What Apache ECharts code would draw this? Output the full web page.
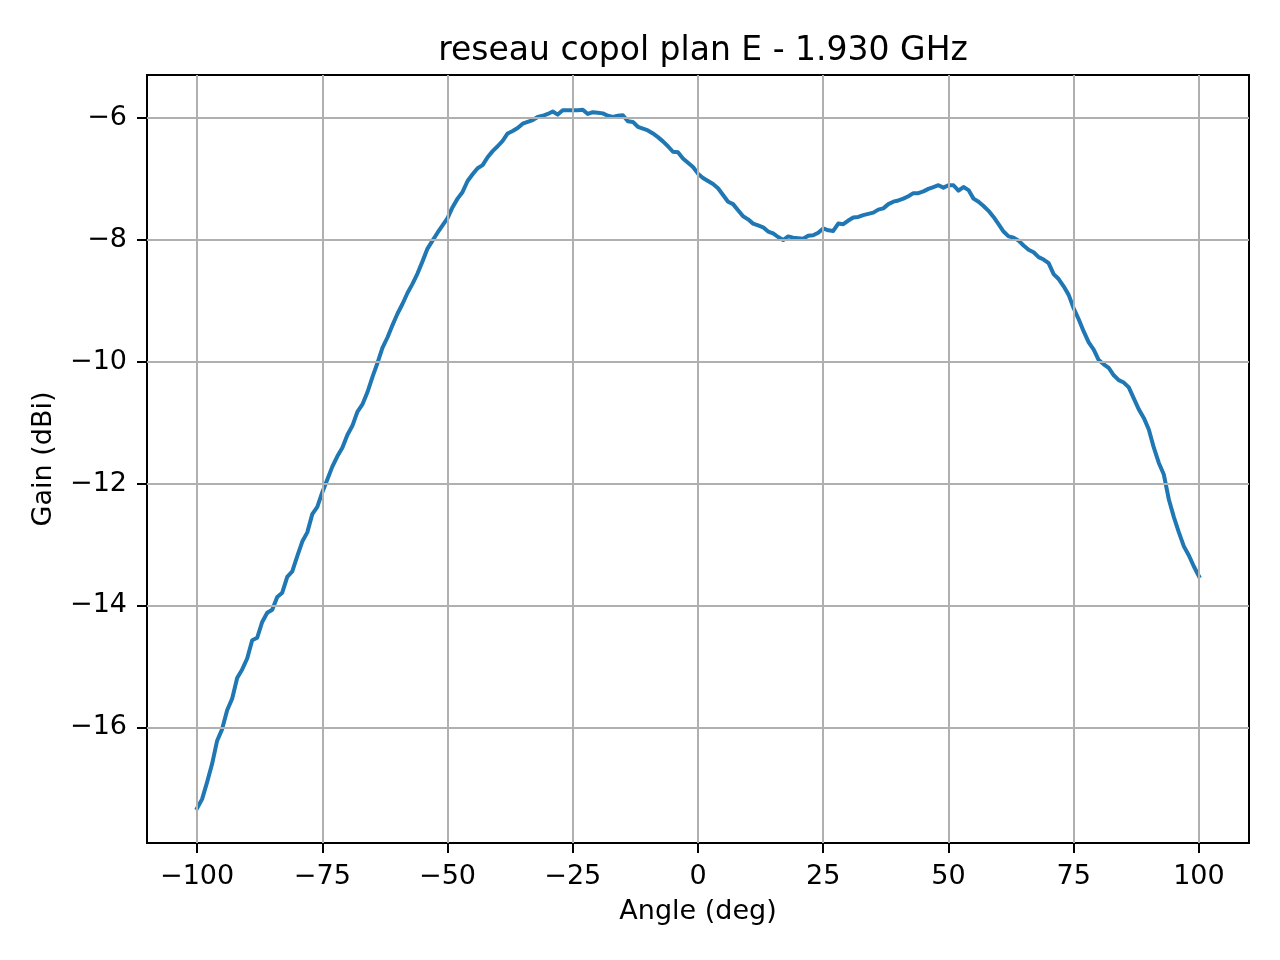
<!DOCTYPE html>
<html>
<head>
<meta charset="utf-8">
<script src="https://cdn.jsdelivr.net/npm/echarts@6/dist/echarts.min.js"></script>
<style>html,body{margin:0;padding:0;background:#fff;}#chart{width:1280px;height:960px;}</style>
</head>
<body>
<div id="chart"></div>
<script>
const titleText = 'reseau copol plan E - 1.930 GHz';
const xName = 'Angle (deg)';
const yName = 'Gain (dBi)';
const xTicks = [-100, -75, -50, -25, 0, 25, 50, 75, 100];
const yTicks = [-16, -14, -12, -10, -8, -6];
const xRange = [-110, 110];
const yRange = [-17.9, -5.29];
const angles = [
 -100,-99,-98,-97,-96,-95,-94,-93,-92,-91,
 -90,-89,-88,-87,-86,-85,-84,-83,-82,-81,
 -80,-79,-78,-77,-76,-75,-74,-73,-72,-71,
 -70,-69,-68,-67,-66,-65,-64,-63,-62,-61,
 -60,-59,-58,-57,-56,-55,-54,-53,-52,-51,
 -50,-49,-48,-47,-46,-45,-44,-43,-42,-41,
 -40,-39,-38,-37,-36,-35,-34,-33,-32,-31,
 -30,-29,-28,-27,-26,-25,-24,-23,-22,-21,
 -20,-19,-18,-17,-16,-15,-14,-13,-12,-11,
 -10,-9,-8,-7,-6,-5,-4,-3,-2,-1,
 0,1,2,3,4,5,6,7,8,9,
 10,11,12,13,14,15,16,17,18,19,
 20,21,22,23,24,25,26,27,28,29,
 30,31,32,33,34,35,36,37,38,39,
 40,41,42,43,44,45,46,47,48,49,
 50,51,52,53,54,55,56,57,58,59,
 60,61,62,63,64,65,66,67,68,69,
 70,71,72,73,74,75,76,77,78,79,
 80,81,82,83,84,85,86,87,88,89,
 90,91,92,93,94,95,96,97,98,99,
 100
];
const gains = [
 -17.33,-17.18,-16.90,-16.60,-16.22,-16.03,-15.72,-15.53,-15.19,-15.05,
 -14.87,-14.57,-14.53,-14.27,-14.12,-14.07,-13.86,-13.79,-13.53,-13.44,
 -13.19,-12.95,-12.80,-12.50,-12.38,-12.14,-11.93,-11.72,-11.55,-11.41,
 -11.20,-11.05,-10.82,-10.70,-10.50,-10.25,-10.02,-9.77,-9.60,-9.40,
 -9.21,-9.05,-8.87,-8.72,-8.55,-8.35,-8.14,-8.01,-7.88,-7.76,
 -7.64,-7.46,-7.32,-7.21,-7.03,-6.92,-6.82,-6.77,-6.64,-6.54,
 -6.46,-6.37,-6.25,-6.21,-6.16,-6.09,-6.06,-6.03,-5.98,-5.96,
 -5.93,-5.89,-5.94,-5.87,-5.87,-5.87,-5.87,-5.86,-5.93,-5.90,
 -5.91,-5.92,-5.96,-5.98,-5.96,-5.95,-6.05,-6.06,-6.14,-6.17,
 -6.20,-6.25,-6.31,-6.38,-6.46,-6.55,-6.56,-6.66,-6.73,-6.80,
 -6.91,-6.98,-7.03,-7.08,-7.15,-7.26,-7.37,-7.41,-7.51,-7.61,
 -7.66,-7.73,-7.76,-7.79,-7.86,-7.89,-7.95,-8.00,-7.94,-7.96,
 -7.97,-7.98,-7.93,-7.92,-7.88,-7.81,-7.84,-7.85,-7.73,-7.74,
 -7.68,-7.63,-7.62,-7.59,-7.57,-7.55,-7.50,-7.48,-7.41,-7.37,
 -7.35,-7.32,-7.28,-7.23,-7.23,-7.20,-7.16,-7.13,-7.10,-7.14,
 -7.10,-7.10,-7.19,-7.13,-7.18,-7.32,-7.37,-7.44,-7.52,-7.62,
 -7.74,-7.86,-7.94,-7.96,-8.01,-8.09,-8.16,-8.20,-8.28,-8.32,
 -8.38,-8.56,-8.64,-8.76,-8.90,-9.12,-9.30,-9.50,-9.68,-9.80,
 -9.97,-10.04,-10.10,-10.22,-10.30,-10.34,-10.42,-10.60,-10.78,-10.92,
 -11.11,-11.41,-11.66,-11.85,-12.26,-12.55,-12.80,-13.03,-13.18,-13.36,
 -13.52
];

const FONT = '"DejaVu Sans", sans-serif';
const fmt = v => String(v).replace('-', '\u2212');
const chart = echarts.init(document.getElementById('chart'), null, {renderer: 'canvas'});
const gridLineStyle = {color: '#b0b0b0', width: 2, type: 'solid'};
chart.setOption({
  animation: false,
  backgroundColor: '#fff',
  title: {
    text: titleText,
    left: 698, top: 30, textAlign: 'center',
    textStyle: {fontFamily: FONT, fontSize: 33, fontWeight: 'normal', color: '#000'}
  },
  grid: {left: 147, right: 31, top: 75, bottom: 117, show: true, borderColor: '#000', borderWidth: 2, backgroundColor: 'transparent'},
  xAxis: {
    type: 'value', min: xRange[0], max: xRange[1], position: 'bottom',
    name: xName, nameLocation: 'middle', nameGap: 55,
    nameTextStyle: {fontFamily: FONT, fontSize: 27, color: '#000'},
    axisLine: {show: true, onZero: false, lineStyle: {color: '#000', width: 2}},
    axisTick: {show: true, inside: false, length: 10, customValues: xTicks, lineStyle: {color: '#000', width: 2}},
    axisLabel: {show: true, customValues: xTicks, margin: 20, fontFamily: FONT, fontSize: 27, color: '#000', formatter: fmt},
    splitLine: {show: false}
  },
  yAxis: {
    type: 'value', min: yRange[0], max: yRange[1], position: 'left',
    name: yName, nameLocation: 'middle', nameGap: 90, nameRotate: 90,
    nameTextStyle: {fontFamily: FONT, fontSize: 27, color: '#000'},
    axisLine: {show: true, onZero: false, lineStyle: {color: '#000', width: 2}},
    axisTick: {show: true, inside: false, length: 10, customValues: yTicks, lineStyle: {color: '#000', width: 2}},
    axisLabel: {show: true, customValues: yTicks, margin: 20, fontFamily: FONT, fontSize: 27, color: '#000', formatter: fmt},
    splitLine: {show: false}
  },
  series: [
    {
      type: 'line', data: [], z: 1, silent: true,
      markLine: {
        silent: true, symbol: ['none', 'none'], label: {show: false}, animation: false,
        lineStyle: gridLineStyle, emphasis: {disabled: true},
        data: xTicks.map(v => ({xAxis: v})).concat(yTicks.map(v => ({yAxis: v})))
      }
    },
    {
      type: 'line', z: 3, showSymbol: false, symbol: 'none', smooth: false,
      data: angles.map((a, i) => [a, gains[i]]),
      lineStyle: {color: '#1f77b4', width: 4, cap: 'square', join: 'round'},
      itemStyle: {color: '#1f77b4'}
    }
  ]
});
</script>
</body>
</html>
